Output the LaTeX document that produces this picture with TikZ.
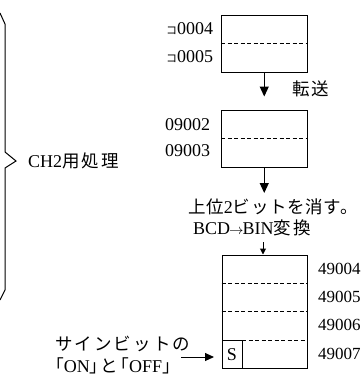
\documentclass[tikz,border=0pt]{standalone}
\usepackage{fontspec}
\setmainfont{Liberation Serif}
\newfontfamily\cjk[LetterSpace=12]{Noto Sans CJK JP}
\newfontfamily\cjktight[LetterSpace=4]{Noto Sans CJK JP}
\usetikzlibrary{arrows.meta}
\newcommand{\jp}[1]{{\cjk\fontsize{17.5}{21}\selectfont #1}}
\newcommand{\jpt}[1]{{\cjktight\fontsize{17.5}{21}\selectfont #1}}
\begin{document}
\begin{tikzpicture}[x=1pt,y=-1pt,
  font=\fontsize{18}{21}\selectfont,
  box/.style={draw,line width=1pt,inner sep=0pt},
  lbl/.style={anchor=west,inner sep=0pt},
  divider/.style={dashed,dash pattern=on 4pt off 2.5pt,line width=0.9pt},
  flow/.style={line width=1.2pt,-{Triangle[length=10pt,width=9pt]}},
  smallflow/.style={line width=1pt,-{Triangle[length=6pt,width=6pt]}}]
\useasboundingbox (0,0) rectangle (364,378);

% brace
\draw[line width=1pt] (0,13) -- (5,24) -- (5,152) -- (16,161) -- (5,168) -- (5,290) -- (0,300);
\node[lbl] (ch2) at (28,161) {CH2\jp{用処理}};

% box 1
\node[box,minimum width=85.5pt,minimum height=57pt] (b1) at (264.25,43.5) {};
\draw[divider] (b1.west) -- (b1.east);
\node[lbl] (l1) at (166,29) {{\cjk\fontsize{11}{12}\selectfont コ}0004};
\node[lbl] (l2) at (166,57) {{\cjk\fontsize{11}{12}\selectfont コ}0005};

% box 2
\node[box,minimum width=85.5pt,minimum height=57.5pt] (b2) at (264.25,138.75) {};
\draw[divider] (b2.west) -- (b2.east);
\node[lbl] (l3) at (165,125) {09002};
\node[lbl] (l4) at (165,151) {09003};

\draw[flow,shorten >=13pt] (b1.south) -- (b2.north);
\node[lbl] (tr) at (292,89) {\jp{転送}};

% texts between
\node[lbl] (t1) at (188,207) {\jpt{上位}2\jpt{ビットを消す。}};
\node[lbl] (t2) at (193,228) {BCD\hspace{-1pt}{\fontsize{14}{14}\selectfont$\rightarrow$}\hspace{-1pt}BIN\jp{変換}};
\coordinate (a2end) at (264.25,193);
\draw[flow] (b2.south) -- (a2end);

% box 3
\node[box,minimum width=85pt,minimum height=113.5pt] (b3) at (264.5,311.75) {};
\coordinate (a3start) at (263,242);
\draw[smallflow] (a3start) -- (b3.north -| a3start);
\draw[divider] (b3.west |- 0,283.4) -- (b3.east |- 0,283.4);
\draw[divider] (b3.west) -- (b3.east);
\draw[divider] (242,340.1) -- (b3.east |- 0,340.1);
\node[box,anchor=south west,minimum width=20pt,minimum height=28.4pt] (sb) at (b3.south west) {};
\node (s) at (sb.center) {S};
\begin{scope}[font=\fontsize{17}{20}\selectfont]
\node[lbl] (m1) at (318,269) {49004};
\node[lbl] (m2) at (318,297) {49005};
\node[lbl] (m3) at (318,325) {49006};
\node[lbl] (m4) at (318,354) {49007};
\end{scope}

% sign bit
\node[lbl] (sg1) at (55,344) {\jp{サインビットの}};
\node[lbl] (sg2) at (55,366) {\jp{｢}ON\jp{｣と｢}OFF\jp{｣}};
\coordinate (sgstart) at (181,357);
\draw[smallflow,-{Triangle[length=9pt,width=8pt]}] (sgstart) -- (214,357);
\end{tikzpicture}
\end{document}
